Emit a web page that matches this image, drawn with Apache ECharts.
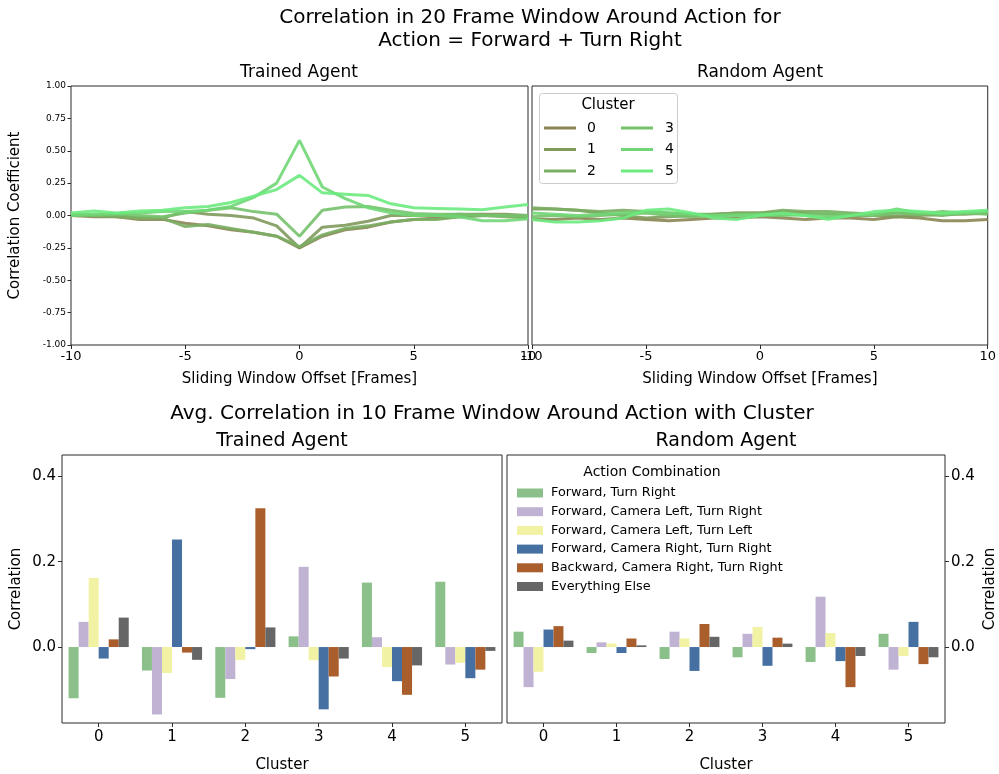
<!DOCTYPE html>
<html>
<head>
<meta charset="utf-8">
<script src="https://cdn.jsdelivr.net/npm/echarts@6/dist/echarts.min.js"></script>
<style>
  html, body { margin: 0; padding: 0; background: #fff; }
  #chart { width: 999px; height: 774px; }
</style>
</head>
<body>
<div id="chart"></div>
<script>
// ---- Sliding-window correlation, offsets in frames ----
const offsets = [-10, -9, -8, -7, -6, -5, -4, -3, -2, -1, 0, 1, 2, 3, 4, 5, 6, 7, 8, 9, 10];
const clusterNames = ['0', '1', '2', '3', '4', '5'];

// Trained agent, one array per cluster
const trainedCluster0 = [0.00, -0.01, -0.01, -0.03, -0.03, -0.06, -0.08, -0.11, -0.13, -0.16, -0.25, -0.16, -0.11, -0.09, -0.05, -0.03, -0.02, -0.01, 0.00, 0.00, -0.01];
const trainedCluster1 = [0.01, 0.00, 0.00, -0.02, -0.02, 0.03, 0.01, 0.00, -0.02, -0.08, -0.25, -0.09, -0.075, -0.045, 0.00, 0.00, 0.00, 0.01, 0.01, 0.01, 0.00];
const trainedCluster2 = [0.00, 0.00, -0.01, -0.02, -0.02, -0.085, -0.07, -0.10, -0.13, -0.16, -0.24, -0.15, -0.10, -0.08, -0.05, -0.03, -0.03, -0.01, 0.00, -0.01, -0.02];
const trainedCluster3 = [0.01, 0.00, 0.01, 0.00, -0.01, 0.02, 0.04, 0.06, 0.03, 0.01, -0.16, 0.04, 0.065, 0.07, 0.04, 0.015, 0.01, 0.01, 0.00, 0.00, 0.00];
const trainedCluster4 = [0.00, 0.01, 0.015, 0.02, 0.03, 0.03, 0.04, 0.07, 0.14, 0.25, 0.58, 0.22, 0.13, 0.06, 0.02, 0.00, 0.00, -0.01, -0.04, -0.04, -0.025];
const trainedCluster5 = [0.02, 0.035, 0.02, 0.035, 0.04, 0.06, 0.07, 0.10, 0.15, 0.20, 0.31, 0.175, 0.165, 0.155, 0.09, 0.06, 0.055, 0.05, 0.045, 0.065, 0.085];

// Random agent, one array per cluster
const randomCluster0 = [-0.03, -0.03, -0.02, -0.03, -0.02, -0.03, -0.04, -0.03, -0.02, -0.02, -0.01, -0.02, -0.03, -0.02, -0.02, -0.03, -0.01, -0.02, -0.04, -0.04, -0.03];
const randomCluster1 = [0.05, 0.05, 0.04, 0.02, 0.00, -0.02, -0.01, 0.00, 0.01, 0.02, 0.02, 0.03, 0.02, 0.01, 0.00, 0.00, -0.01, 0.00, 0.01, 0.01, 0.02];
const randomCluster2 = [0.06, 0.05, 0.04, 0.03, 0.04, 0.03, 0.02, 0.01, 0.01, 0.02, 0.02, 0.04, 0.03, 0.03, 0.02, 0.01, 0.02, 0.01, 0.00, 0.02, 0.03];
const randomCluster3 = [-0.01, 0.00, -0.01, 0.00, 0.01, 0.02, 0.00, -0.01, 0.00, 0.01, 0.00, 0.00, 0.01, 0.02, 0.01, 0.00, 0.02, 0.01, 0.03, 0.02, 0.01];
const randomCluster4 = [0.02, 0.01, 0.00, 0.01, 0.02, 0.03, 0.02, 0.01, 0.00, 0.00, 0.01, 0.01, 0.00, -0.01, 0.00, 0.01, 0.05, 0.02, 0.01, 0.02, 0.03];
const randomCluster5 = [-0.03, -0.05, -0.05, -0.04, -0.02, 0.04, 0.05, 0.02, -0.02, -0.03, 0.00, 0.02, 0.00, -0.03, 0.00, 0.03, 0.04, 0.03, 0.02, 0.03, 0.04];

// ---- Average correlation per cluster, by action combination ----
const barClusters = ['0', '1', '2', '3', '4', '5'];
const actionNames = [
  'Forward, Turn Right',
  'Forward, Camera Left, Turn Right',
  'Forward, Camera Left, Turn Left',
  'Forward, Camera Right, Turn Right',
  'Backward, Camera Right, Turn Right',
  'Everything Else'
];
const trainedForwardTurnRight = [-0.120, -0.055, -0.119, 0.025, 0.151, 0.153];
const trainedFwdCamLeftTurnRight = [0.059, -0.158, -0.075, 0.188, 0.023, -0.041];
const trainedFwdCamLeftTurnLeft = [0.162, -0.061, -0.030, -0.031, -0.047, -0.037];
const trainedFwdCamRightTurnRight = [-0.027, 0.252, -0.005, -0.146, -0.080, -0.073];
const trainedBackCamRightTurnRight = [0.018, -0.013, 0.325, -0.069, -0.112, -0.053];
const trainedEverythingElse = [0.069, -0.030, 0.046, -0.027, -0.043, -0.009];

const randomForwardTurnRight = [0.036, -0.014, -0.028, -0.024, -0.035, 0.031];
const randomFwdCamLeftTurnRight = [-0.094, 0.011, 0.036, 0.031, 0.118, -0.053];
const randomFwdCamLeftTurnLeft = [-0.058, 0.008, 0.020, 0.047, 0.033, -0.021];
const randomFwdCamRightTurnRight = [0.041, -0.014, -0.056, -0.044, -0.033, 0.059];
const randomBackCamRightTurnRight = [0.049, 0.020, 0.054, 0.022, -0.094, -0.040];
const randomEverythingElse = [0.015, 0.004, 0.024, 0.008, -0.021, -0.024];

const barTicks = [0, 0.2, 0.4];

// ---- styling ----
const FONT = 'DejaVu Sans';
const clusterColors = ['#8a8553', '#7f9a5c', '#7aae63', '#75c26b', '#70d675', '#6bea7e'];
const actionColors = ['#8bc08b', '#c0b2d2', '#f2f2a4', '#4670a2', '#aa5e2c', '#666666'];
const frameColor = '#2a2a2a';

const trainedLines = [trainedCluster0, trainedCluster1, trainedCluster2, trainedCluster3, trainedCluster4, trainedCluster5];
const randomLines = [randomCluster0, randomCluster1, randomCluster2, randomCluster3, randomCluster4, randomCluster5];
const trainedBars = [trainedForwardTurnRight, trainedFwdCamLeftTurnRight, trainedFwdCamLeftTurnLeft, trainedFwdCamRightTurnRight, trainedBackCamRightTurnRight, trainedEverythingElse];
const randomBars = [randomForwardTurnRight, randomFwdCamLeftTurnRight, randomFwdCamLeftTurnLeft, randomFwdCamRightTurnRight, randomBackCamRightTurnRight, randomEverythingElse];

const grids = [
  { left: 71, top: 86, width: 457, height: 259 },
  { left: 532, top: 86, width: 457, height: 259 },
  { left: 62, top: 455, width: 440, height: 275 },
  { left: 507, top: 455, width: 439, height: 275 }
].map(g => Object.assign({ show: true, borderColor: frameColor, borderWidth: 1, backgroundColor: 'transparent' }, g));

const noLine = { show: false, onZero: false };

function lineXAxis(gi) {
  return {
    type: 'value', gridIndex: gi, min: -10, max: 10, interval: 5,
    axisLine: noLine, splitLine: { show: false },
    axisTick: { show: true, length: 4, lineStyle: { color: frameColor } },
    axisLabel: { fontFamily: FONT, fontSize: 13, color: '#000', margin: 5 },
    name: 'Sliding Window Offset [Frames]', nameLocation: 'middle', nameGap: 27,
    nameTextStyle: { fontFamily: FONT, fontSize: 15, color: '#000' }
  };
}
function barXAxis(gi) {
  return {
    type: 'category', gridIndex: gi, data: barClusters,
    axisLine: noLine, splitLine: { show: false },
    axisTick: { show: true, alignWithLabel: true, length: 4, lineStyle: { color: frameColor } },
    axisLabel: { fontFamily: FONT, fontSize: 15, color: '#000', margin: 7 },
    name: 'Cluster', nameLocation: 'middle', nameGap: 35,
    nameTextStyle: { fontFamily: FONT, fontSize: 15, color: '#000' }
  };
}

const xAxis = [lineXAxis(0), lineXAxis(1), barXAxis(2), barXAxis(3)];
const yAxis = [
  {
    type: 'value', gridIndex: 0, min: -1, max: 1, interval: 0.25,
    axisLine: noLine, splitLine: { show: false },
    axisTick: { show: true, length: 3.5, lineStyle: { color: frameColor } },
    axisLabel: { fontFamily: FONT, fontSize: 9, color: '#000', margin: 5, formatter: v => v.toFixed(2) },
    name: 'Correlation Coefficient', nameLocation: 'middle', nameGap: 48,
    nameTextStyle: { fontFamily: FONT, fontSize: 15, color: '#000' }
  },
  {
    type: 'value', gridIndex: 1, min: -1, max: 1, interval: 0.25,
    axisLine: noLine, splitLine: { show: false },
    axisTick: { show: false }, axisLabel: { show: false }
  },
  {
    type: 'value', gridIndex: 2, min: -0.178, max: 0.45,
    axisLine: noLine, splitLine: { show: false },
    axisTick: { show: true, length: 4, customValues: barTicks, lineStyle: { color: frameColor } },
    axisLabel: { fontFamily: FONT, fontSize: 15, color: '#000', margin: 6, customValues: barTicks, formatter: v => v.toFixed(1) },
    name: 'Correlation', nameLocation: 'middle', nameGap: 38,
    nameTextStyle: { fontFamily: FONT, fontSize: 15, color: '#000' }
  },
  {
    type: 'value', gridIndex: 3, position: 'right', min: -0.178, max: 0.45,
    axisLine: noLine, splitLine: { show: false },
    axisTick: { show: true, length: 4, customValues: barTicks, lineStyle: { color: frameColor } },
    axisLabel: { fontFamily: FONT, fontSize: 15, color: '#000', margin: 6, customValues: barTicks, formatter: v => v.toFixed(1) },
    name: 'Correlation', nameLocation: 'middle', nameGap: 38,
    nameTextStyle: { fontFamily: FONT, fontSize: 15, color: '#000' }
  }
];

const series = [];
[trainedLines, randomLines].forEach((set, gi) => {
  set.forEach((vals, ci) => {
    series.push({
      type: 'line', name: clusterNames[ci], xAxisIndex: gi, yAxisIndex: gi,
      data: offsets.map((x, k) => [x, vals[k]]),
      symbol: 'none', smooth: false,
      lineStyle: { width: 3, color: clusterColors[ci], opacity: 0.9 },
      itemStyle: { color: clusterColors[ci] },
      z: 2 + ci, animation: false
    });
  });
});
[trainedBars, randomBars].forEach((set, k) => {
  const gi = k + 2;
  set.forEach((vals, ai) => {
    series.push({
      type: 'bar', name: actionNames[ai], xAxisIndex: gi, yAxisIndex: gi,
      data: vals, barGap: '0%', barCategoryGap: '18%',
      itemStyle: { color: actionColors[ai] }, animation: false
    });
  });
});

function label(x, y, text, size) {
  return {
    type: 'text', x, y, z: 10,
    style: { text, fontSize: size, fontFamily: FONT, fill: '#000', textAlign: 'center', textVerticalAlign: 'middle' }
  };
}

const lineIcon = 'path://M0,5 L32,5 L32,8 L0,8 Z';
const option = {
  animation: false,
  backgroundColor: '#fff',
  grid: grids,
  xAxis, yAxis, series,
  legend: [
    {
      data: clusterNames.slice(0, 3), orient: 'vertical', left: 539, top: 116, z: 10,
      itemWidth: 32, itemHeight: 12, itemGap: 7.5, icon: lineIcon,
      textStyle: { fontFamily: FONT, fontSize: 14, color: '#000', padding: [0, 0, 0, 6] },
      selectedMode: false
    },
    {
      data: clusterNames.slice(3), orient: 'vertical', left: 616, top: 116, z: 10,
      itemWidth: 32, itemHeight: 12, itemGap: 7.5, icon: lineIcon,
      textStyle: { fontFamily: FONT, fontSize: 14, color: '#000', padding: [0, 0, 0, 7] },
      selectedMode: false
    },
    {
      data: actionNames, orient: 'vertical', left: 512, top: 481, z: 10,
      itemWidth: 26, itemHeight: 9, itemGap: 4.7, icon: 'rect',
      textStyle: { fontFamily: FONT, fontSize: 12.8, color: '#000', lineHeight: 14, padding: [0, 0, 0, 3] },
      selectedMode: false
    }
  ],
  graphic: [
    label(530, 18, 'Correlation in 20 Frame Window Around Action for', 20),
    label(530, 41, 'Action = Forward + Turn Right', 20),
    label(299, 73, 'Trained Agent', 17),
    label(760, 73, 'Random Agent', 17),
    label(492, 414, 'Avg. Correlation in 10 Frame Window Around Action with Cluster', 20),
    label(282, 441, 'Trained Agent', 19),
    label(726, 441, 'Random Agent', 19),
    {
      type: 'rect', z: 1, shape: { x: 539.5, y: 93.5, width: 138, height: 90, r: 3 },
      style: { fill: 'rgba(255,255,255,0.8)', stroke: '#cccccc', lineWidth: 1 }
    },
    label(608, 105, 'Cluster', 15),
    label(652, 472, 'Action Combination', 14)
  ]
};

const chart = echarts.init(document.getElementById('chart'), null, { renderer: 'canvas' });
chart.setOption(option);
</script>
</body>
</html>
